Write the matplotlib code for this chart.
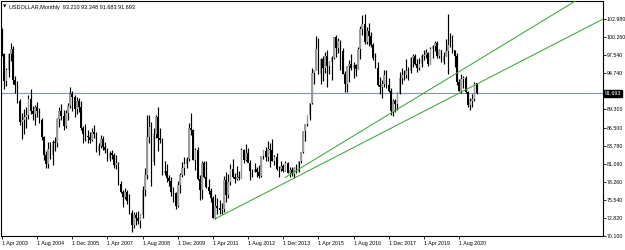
import matplotlib
matplotlib.use("Agg")
import matplotlib.pyplot as plt
import matplotlib.transforms as mtransforms
import numpy as np
import pandas as pd

plt.rcParams['font.family'] = ['Liberation Sans Narrow', 'Liberation Sans', 'DejaVu Sans']

# ---------------- data (monthly USDOLLAR, Apr 2003 .. Apr 2021) ----------------
start_month = "2003-04"
first_open = 99.6

highs = [
    101.6, 97.8, 95.6, 97.8, 99.3, 98.9, 94.3, 93.6, 90.8,                     # 2003 Apr-Dec
    88.7, 89.3, 89.6, 91.4, 92.3, 89.8, 89.9, 90.4, 89.5, 88.0, 85.2, 83.0,     # 2004
    84.4, 84.3, 84.6, 85.1, 88.0, 89.6, 90.1, 89.2, 89.2, 90.3, 92.6, 92.1,     # 2005
    91.4, 91.2, 91.0, 90.5, 86.8, 87.0, 86.2, 85.9, 86.5, 86.9, 85.8, 84.2,     # 2006
    85.4, 85.2, 84.4, 83.4, 83.0, 83.1, 82.6, 82.3, 81.3, 78.4, 77.1, 77.3,     # 2007
    77.0, 76.4, 74.0, 73.8, 73.8, 73.9, 73.5, 77.6, 80.4, 88.5, 88.5, 87.3,     # 2008
    86.5, 88.5, 89.6, 86.4, 85.0, 81.5, 81.0, 79.4, 79.0, 77.5, 76.8, 78.4,     # 2009
    79.6, 81.3, 82.0, 82.0, 87.2, 88.7, 86.3, 83.5, 83.6, 79.3, 81.4, 81.4,     # 2010
    81.4, 78.8, 77.3, 76.2, 76.5, 75.8, 75.5, 75.1, 79.2, 79.8, 79.5, 81.0,     # 2011
    81.8, 79.6, 80.7, 79.9, 83.5, 83.3, 84.1, 83.5, 81.6, 80.3, 81.2, 80.5,     # 2012
    80.9, 82.2, 83.2, 83.6, 84.5, 84.2, 84.8, 82.4, 82.6, 80.7, 81.5, 81.0,     # 2013
    81.4, 81.3, 80.5, 80.5, 80.5, 81.0, 81.5, 82.8, 86.0, 87.0, 88.4, 90.3,     # 2014
    95.5, 95.3, 100.4, 100.1, 97.0, 97.4, 98.0, 98.3, 96.6, 97.3, 100.2, 100.5, # 2015
    100.1, 99.8, 98.6, 95.1, 95.9, 96.7, 97.6, 96.5, 96.1, 98.8, 101.9, 103.6,  # 2016
    103.8, 101.8, 102.3, 101.0, 99.4, 97.8, 96.4, 94.2, 93.8, 95.2, 95.2, 94.1, # 2017
    92.5, 90.9, 90.9, 91.9, 95.0, 95.5, 95.2, 96.9, 95.7, 97.2, 97.7, 97.7,     # 2018
    96.9, 97.0, 97.7, 98.3, 98.4, 98.0, 98.7, 99.0, 99.7, 99.7, 98.5, 98.3,     # 2019
    98.0, 99.9, 103.8, 100.9, 100.6, 98.3, 97.8, 93.9, 94.7, 94.3, 94.3, 92.0,  # 2020
    91.0, 91.6, 93.4, 93.348,                                                    # 2021
]
lows = [
    97.4, 92.4, 92.8, 94.2, 96.6, 93.1, 91.8, 90.3, 86.9,
    84.8, 85.6, 86.4, 87.8, 88.6, 87.6, 86.9, 88.1, 87.2, 84.6, 81.6, 80.4,
    80.4, 81.7, 80.9, 83.0, 83.6, 86.6, 87.7, 86.1, 86.4, 87.7, 89.5, 89.1,
    88.2, 88.6, 88.9, 86.2, 84.2, 84.5, 84.2, 84.2, 84.5, 84.9, 82.8, 82.4,
    83.5, 83.2, 82.6, 81.5, 81.5, 81.8, 80.4, 80.3, 77.9, 76.6, 74.5, 75.7,
    74.9, 73.5, 70.7, 71.3, 71.8, 71.9, 71.3, 72.9, 76.2, 78.8, 84.2, 77.7,
    80.9, 84.9, 83.0, 84.2, 79.3, 79.3, 78.3, 77.7, 76.1, 75.2, 74.2, 74.5,
    76.6, 79.0, 79.4, 80.4, 81.4, 85.4, 81.6, 80.1, 78.6, 75.6, 75.7, 78.9,
    77.4, 76.5, 75.3, 72.8, 72.7, 73.5, 73.4, 73.4, 73.8, 75.3, 75.9, 77.8,
    78.9, 78.1, 78.6, 78.6, 78.9, 81.2, 81.5, 81.3, 78.6, 79.1, 79.8, 79.0,
    78.9, 79.0, 81.8, 81.5, 81.5, 80.5, 81.4, 80.8, 80.1, 79.1, 80.0, 79.8,
    80.0, 79.7, 79.1, 79.2, 78.9, 79.7, 79.8, 81.1, 82.6, 84.5, 86.8, 87.6,
    90.1, 93.2, 95.2, 94.6, 93.1, 93.6, 94.8, 92.6, 94.6, 93.8, 96.9, 97.2,
    97.8, 95.2, 94.6, 91.9, 91.9, 93.4, 95.2, 94.1, 94.4, 95.4, 96.9, 100.6,
    99.2, 99.2, 98.9, 98.8, 96.8, 95.5, 92.8, 91.6, 91.0, 92.7, 92.5, 91.9,
    88.4, 88.3, 88.9, 89.2, 91.6, 93.2, 93.7, 94.1, 93.8, 94.8, 95.7, 96.0,
    95.0, 95.2, 95.7, 96.7, 97.0, 95.8, 96.1, 97.0, 98.1, 97.1, 97.0, 96.4,
    96.2, 97.3, 94.6, 98.8, 97.8, 95.7, 92.9, 92.1, 91.8, 92.5, 91.7, 89.7,
    89.2, 89.7, 90.6, 91.683,
]
closes = [
    97.6, 93.6, 95.2, 97.6, 98.4, 93.8, 93.0, 90.6, 87.3,
    87.6, 88.2, 88.4, 90.9, 89.1, 88.6, 89.6, 89.0, 87.6, 85.1, 82.3, 81.0,
    83.3, 82.3, 84.4, 84.2, 87.8, 89.1, 88.3, 86.8, 88.7, 89.8, 91.6, 91.2,
    89.4, 90.5, 89.6, 86.5, 85.5, 85.2, 85.1, 84.7, 85.9, 85.5, 83.0, 83.7,
    84.8, 83.6, 83.2, 81.9, 82.6, 82.4, 80.9, 81.1, 78.0, 76.7, 76.0, 76.7,
    75.4, 73.6, 71.8, 73.3, 72.9, 72.4, 73.3, 77.1, 79.4, 85.1, 86.6, 81.3,
    85.6, 88.2, 85.0, 84.7, 79.6, 80.0, 78.9, 78.5, 76.7, 76.6, 74.7, 77.9,
    79.4, 80.4, 81.0, 81.8, 86.4, 86.1, 81.6, 83.1, 78.7, 77.0, 81.2, 79.0,
    77.5, 76.9, 75.9, 72.9, 74.6, 74.3, 74.1, 74.2, 78.6, 76.3, 78.3, 80.2,
    79.0, 78.8, 79.0, 78.9, 83.1, 81.6, 82.7, 81.2, 79.9, 79.8, 80.2, 79.8,
    79.2, 82.2, 83.0, 82.0, 83.3, 83.2, 81.5, 82.1, 80.2, 80.2, 80.7, 80.0,
    81.2, 79.7, 80.1, 79.5, 80.4, 79.8, 81.5, 82.8, 86.0, 87.0, 88.4, 90.3,
    94.8, 95.3, 98.4, 94.6, 96.9, 95.5, 97.3, 95.8, 96.4, 97.0, 100.2, 98.6,
    99.6, 98.2, 94.6, 93.1, 95.9, 96.1, 95.5, 96.0, 95.4, 98.5, 101.5, 102.2,
    99.5, 101.1, 100.4, 99.0, 97.0, 95.6, 92.9, 92.7, 93.1, 94.5, 93.0, 92.1,
    89.1, 90.6, 90.1, 91.8, 94.0, 94.5, 94.5, 95.1, 95.1, 97.1, 97.3, 96.2,
    95.6, 96.2, 97.3, 97.5, 97.8, 96.1, 98.5, 98.9, 99.4, 97.4, 98.3, 96.4,
    97.4, 98.1, 99.0, 99.0, 98.3, 97.4, 93.4, 92.1, 93.9, 94.0, 91.9, 89.9,
    90.6, 90.9, 93.2, 91.693,
]
opens = [first_open] + closes[:-1]
opens[-1] = 93.210

x_tick_labels = ["1 Apr 2003", "1 Aug 2004", "1 Dec 2005", "1 Apr 2007", "1 Aug 2008",
                 "1 Dec 2009", "1 Apr 2011", "1 Aug 2012", "1 Dec 2013", "1 Apr 2015",
                 "1 Aug 2016", "1 Dec 2017", "1 Apr 2019", "1 Aug 2020"]
y_tick_values = [102.980, 100.260, 97.540, 94.740, 89.300, 86.500, 83.780,
                 81.060, 78.260, 75.540, 72.820, 70.100]
current_price = 91.693
header = "USDOLLAR,Monthly  93.210 93.348 91.683 91.693"

# trend lines: (month, value) anchor pairs
trend_lower = [("2011-05", 72.70), ("2021-04", 93.10)]
trend_upper = [("2014-01", 79.00), ("2021-04", 96.60)]

# ---------------- helpers ----------------
t0 = pd.Period(start_month, freq="M")
def midx(s):
    return (pd.Period(s, freq="M") - t0).n

n = len(closes)
xs = np.arange(n)
o = np.array(opens); h = np.array(highs); l = np.array(lows); c = np.array(closes)

W, H = 625, 250
fig = plt.figure(figsize=(W / 100, H / 100), dpi=100)
fig.patch.set_facecolor("white")
ax = fig.add_axes([1 / W, 14 / H, 602 / W, 235 / H])
ax.set_facecolor("white")

px = 2.197  # pixels per bar
ax.set_xlim(-1.0 / px, 601 / px)
ax.set_ylim(70.1, 105.7)

# horizontal current price line
ax.axhline(current_price, color="#8595aa", lw=0.8, zorder=1)

# candles
ax.vlines(xs, l, h, color="black", lw=0.85, zorder=2)
bull = c >= o
bw = 0.75
ax.bar(xs[bull], (c - o)[bull], bottom=o[bull], width=bw, color="#9c9c9c",
       edgecolor="none", zorder=3)
ax.bar(xs[~bull], (o - c)[~bull], bottom=c[~bull], width=bw, color="black",
       edgecolor="none", zorder=3)

# trend lines (rays to the right)
def ray(p, color="#3aa83a"):
    (d1, v1), (d2, v2) = p
    x1, x2 = midx(d1), midx(d2)
    slope = (v2 - v1) / (x2 - x1)
    xe = 601 / px + 5
    ax.plot([x1, xe], [v1, v1 + slope * (xe - x1)], color=color, lw=0.75, zorder=4,
            clip_on=True)
ray(trend_lower)
ray(trend_upper)

# spines
for s in ax.spines.values():
    s.set_color("black")
    s.set_linewidth(0.8)

fs = 3.8
# y axis on the right
ax.yaxis.tick_right()
ax.set_yticks(y_tick_values)
ax.set_yticklabels([f"{v:.3f}" for v in y_tick_values])
ax.tick_params(axis="y", direction="out", length=1.8, width=0.6, pad=0.8,
               labelsize=fs, colors="black")

# x axis ticks
xt = [midx(pd.to_datetime(s, format="%d %b %Y").strftime("%Y-%m")) for s in x_tick_labels]
ax.set_xticks(xt)
ax.set_xticklabels(x_tick_labels)
ax.tick_params(axis="x", direction="out", length=2.0, width=0.6, pad=1.5,
               labelsize=fs, colors="black")
for lab in ax.get_xticklabels():
    lab.set_horizontalalignment("left")

# current price box on the axis
trans = mtransforms.blended_transform_factory(ax.transAxes, ax.transData)
ax.text(1.003, current_price, f"{current_price:.3f}", transform=trans, fontsize=fs,
        color="white", va="center", ha="left", zorder=10, clip_on=False,
        bbox=dict(boxstyle="square,pad=0.2", facecolor="black", edgecolor="black"))

# header
ax.text(0.004, 0.985, "\u25bc", transform=ax.transAxes, fontsize=3.2,
        color="black", va="top", ha="left", family="DejaVu Sans")
ax.text(0.014, 0.985, header, transform=ax.transAxes, fontsize=4.0,
        color="black", va="top", ha="left")

fig.savefig("out.png", dpi=100, facecolor="white")
